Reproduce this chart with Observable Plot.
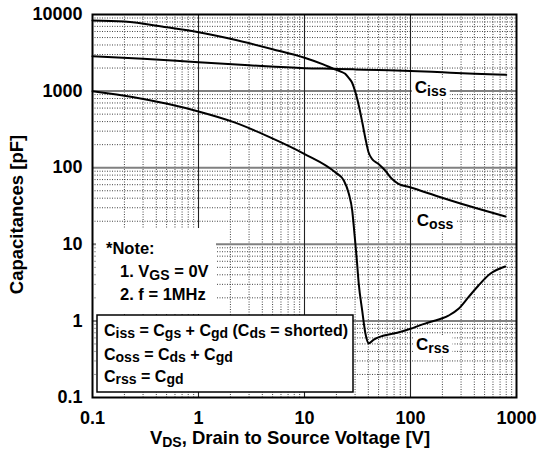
<!DOCTYPE html>
<html><head><meta charset="utf-8">
<script src="https://cdn.jsdelivr.net/npm/d3@7"></script>
<script src="https://cdn.jsdelivr.net/npm/@observablehq/plot@0.6"></script>
<style>
html,body{margin:0;padding:0;background:#fff;}
#chart svg{display:block;}
#chart svg text{font-weight:bold !important; font-family:'Liberation Sans', Arial, Helvetica, sans-serif !important;}
</style>
</head><body><div id="chart"></div>
<script>
// ---- data ----
const cissV = [0.1, 0.3, 1, 3, 10, 20, 30, 50, 100, 200, 400, 800];
const cissC = [2860, 2650, 2380, 2170, 1990, 1950, 1920, 1880, 1830, 1760, 1690, 1630];

const cossV = [0.1, 0.2, 0.5, 1, 2, 5, 10, 15, 18.8, 22, 24.2, 26, 28, 30.5, 32.8, 35.3, 37.9, 40.2, 43.2, 49.9, 57.7, 66.7, 77, 99, 192, 343, 787];
const cossC = [8350, 8110, 6820, 5870, 4810, 3520, 2720, 2230, 1960, 1800, 1683, 1500, 1306, 922, 617, 374, 226, 159, 131, 112, 92, 71.6, 61.6, 55.6, 41.2, 32.1, 23.1];

const crssV = [0.1, 0.245, 0.507, 1, 2.15, 4.57, 9.93, 19.5, 23.5, 26.2, 28.2, 29.6, 31, 32.5, 35, 37.6, 40.4, 45, 55, 75, 100, 124, 150, 228, 284, 352, 438, 565, 782];
const crssC = [998, 832, 682, 542, 393, 255, 152, 87, 68, 45.6, 27.6, 13.7, 6.8, 3.05, 1.37, 0.68, 0.51, 0.57, 0.64, 0.70, 0.79, 0.88, 0.96, 1.17, 1.44, 2.04, 2.9, 4.12, 5.13];

const xTicks = [0.1, 1, 10, 100, 1000];
const yTicks = [0.1, 1, 10, 100, 1000, 10000];
const xMajorGrid = [1, 10, 100];
const yMajorGrid = [1, 10, 100, 1000];
const minorSteps = [2, 3, 4, 5, 6, 7, 8, 9];
const xMinor = [0.1, 1, 10, 100].flatMap(d => minorSteps.map(k => d * k));
const yMinor = [0.1, 1, 10, 100, 1000].flatMap(d => minorSteps.map(k => d * k));

const curveLabels = [
  {v: 111, c: 930, text: "C_{iss}"},
  {v: 116, c: 17.1, text: "C_{oss}"},
  {v: 114, c: 0.41, text: "C_{rss}"}
];
const noteLines = ["*Note:", "1. V_{GS} = 0V", "2. f = 1MHz"];
const legendLines = ["C_{iss} = C_{gs} + C_{gd} (C_{ds} = shorted)", "C_{oss} = C_{ds} + C_{gd}", "C_{rss} = C_{gd}"];
const xTitle = "V_{DS}, Drain to Source Voltage [V]";
const yTitle = "Capacitances [pF]";

(function () {
const rows = (V, C) => V.map((v, i) => ({v, c: C[i]}));
const FONT = "'Liberation Sans', Arial, Helvetica, sans-serif";

const plot = Plot.plot({
  width: 538, height: 450,
  marginLeft: 92, marginRight: 22, marginTop: 14, marginBottom: 53,
  style: {fontFamily: FONT, background: "#fff", overflow: "visible"},
  x: {type: "log", domain: [0.1, 1000]},
  y: {type: "log", domain: [0.1, 10000]},
  marks: [
    Plot.ruleX(xMinor, {stroke: "#222", strokeWidth: 0.85, strokeDasharray: "1,1.5"}),
    Plot.ruleY(yMinor, {stroke: "#222", strokeWidth: 0.85, strokeDasharray: "1,1.5"}),
    Plot.ruleY(yMajorGrid, {stroke: "#808080", strokeWidth: 2}),
    Plot.ruleX(xMajorGrid, {stroke: "#222", strokeWidth: 1.1}),
    Plot.line(rows(cissV, cissC), {x: "v", y: "c", curve: "monotone-x", stroke: "#000", strokeWidth: 2}),
    Plot.line(rows(cossV, cossC), {x: "v", y: "c", curve: "monotone-x", stroke: "#000", strokeWidth: 2}),
    Plot.line(rows(crssV, crssC), {x: "v", y: "c", curve: "monotone-x", stroke: "#000", strokeWidth: 2}),
    Plot.frame({stroke: "#000", strokeWidth: 2}),
    Plot.axisX({ticks: xTicks, tickSize: 0, tickPadding: 14, tickFormat: d => String(d), fontSize: 18, fontWeight: "bold", label: null}),
    Plot.axisY({ticks: yTicks, tickSize: 0, tickPadding: 10, tickFormat: d => String(d), fontSize: 18, fontWeight: "bold", label: null})
  ]
});
document.getElementById("chart").appendChild(plot);

const svg = d3.select(plot);
svg.selectAll('g[aria-label="x-axis tick label"], g[aria-label="y-axis tick label"]')
  .attr("font-size", 18).attr("font-weight", "bold").attr("fill", "#000");

const X = plot.scale("x"), Y = plot.scale("y");
const fL = X.apply(0.1), fR = X.apply(1000), fT = Y.apply(10000), fB = Y.apply(0.1);

// rich text with subscripts: "_{...}"
function rich(parent, x, y, str, size, subSize, opts = {}) {
  const t = parent.append("text").attr("x", x).attr("y", y)
    .attr("font-family", FONT).attr("font-weight", "bold").attr("font-size", size).attr("fill", "#000")
    .attr("text-anchor", opts.anchor || "start");
  if (opts.transform) t.attr("transform", opts.transform);
  const parts = str.split(/(_\{[^}]*\})/).filter(s => s.length);
  const shift = opts.shift ?? 2.5;
  let lowered = false;
  for (const p of parts) {
    if (p.startsWith("_{")) {
      t.append("tspan").attr("font-size", subSize).attr("dy", lowered ? 0 : shift).text(p.slice(2, -1));
      lowered = true;
    } else {
      t.append("tspan").attr("dy", lowered ? -shift : 0).text(p);
      lowered = false;
    }
  }
  return t;
}

const firstLine = 'g[aria-label="line"]';
// note area (white, no border)
svg.insert("rect", firstLine)
  .attr("x", fL + 4).attr("y", fT + 214).attr("width", 120).attr("height", 86)
  .attr("fill", "#fff");
// legend box
svg.insert("rect", firstLine)
  .attr("x", fL + 5).attr("y", fT + 301).attr("width", 256).attr("height", 77)
  .attr("fill", "#fff").attr("stroke", "#000").attr("stroke-width", 1.5);

const ann = svg.append("g").attr("text-anchor", "start");
// note text
rich(ann, fL + 14, fT + 240, noteLines[0], 16.5, 14);
rich(ann, fL + 28, fT + 263, noteLines[1], 16.5, 14);
rich(ann, fL + 28, fT + 286, noteLines[2], 16.5, 14);
// legend text
rich(ann, fL + 12, fT + 322, legendLines[0], 16, 14, {shift: 2});
rich(ann, fL + 12, fT + 346, legendLines[1], 16, 14, {shift: 2});
rich(ann, fL + 12, fT + 368, legendLines[2], 16, 14, {shift: 2});

// curve labels with white background
for (const L of curveLabels) {
  const t = rich(ann, X.apply(L.v), Y.apply(L.c), L.text, 17, 14, {shift: 3});
  const b = t.node().getBBox();
  ann.insert("rect", () => t.node())
    .attr("x", b.x - 3).attr("y", b.y).attr("width", b.width + 6).attr("height", b.height)
    .attr("fill", "#fff");
}

// axis titles
rich(ann, (fL + fR) / 2 - 14, 443.5, xTitle, 18.5, 14, {anchor: "middle", shift: 3});
rich(ann, 0, 0, yTitle, 18.5, 14, {anchor: "middle", transform: `translate(23,${(fT + fB) / 2 + 9}) rotate(-90)`});
})();
</script>
</body></html>
